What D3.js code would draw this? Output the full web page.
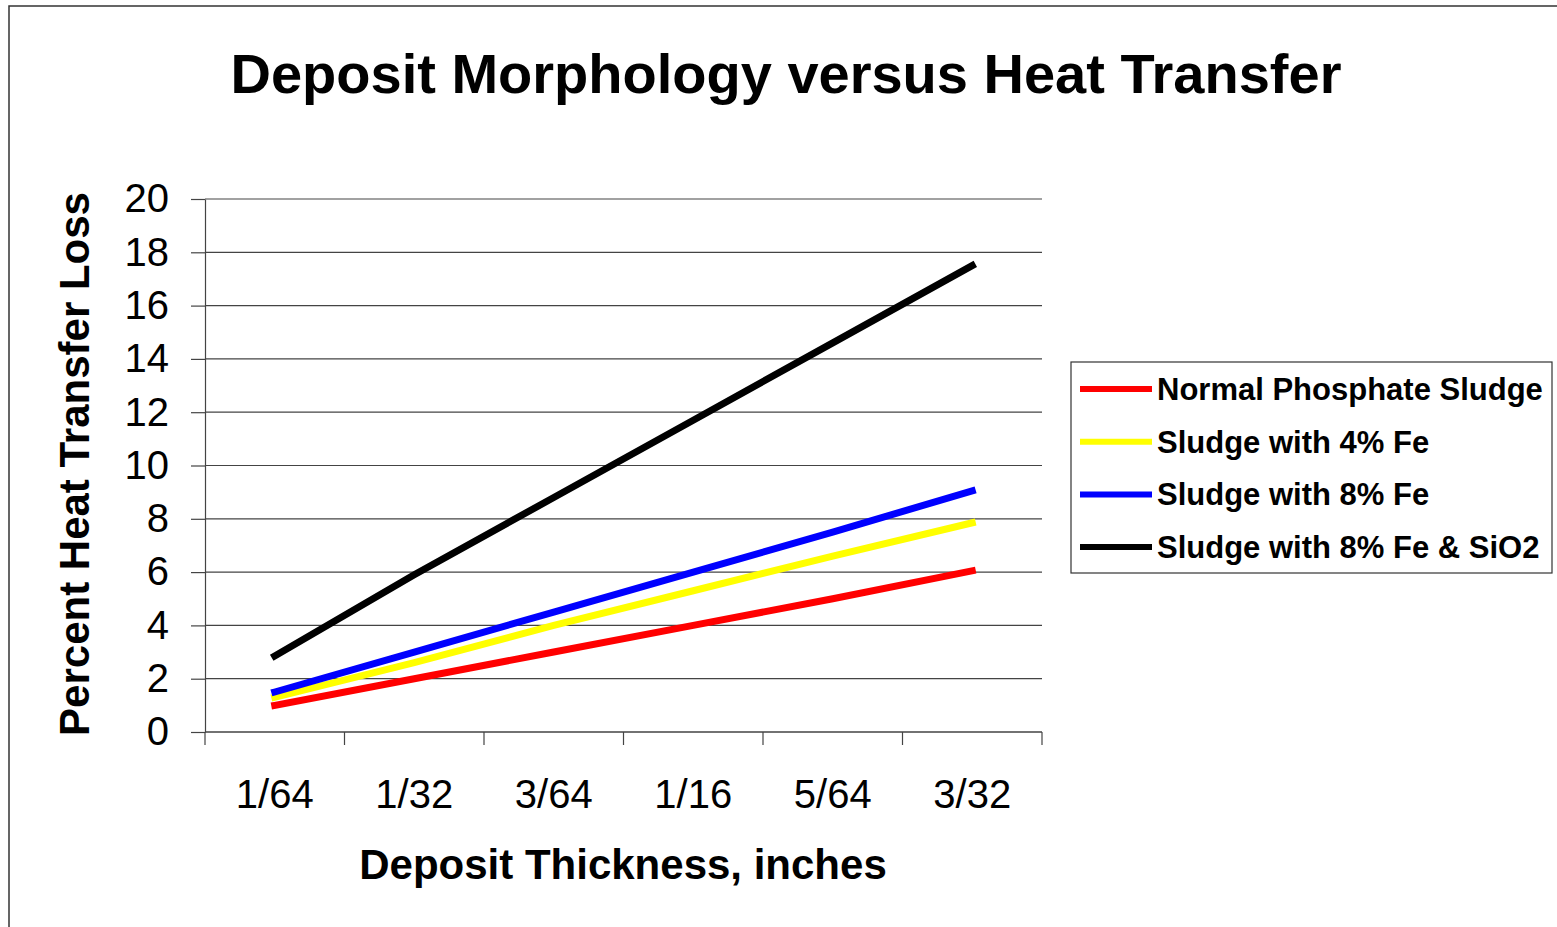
<!DOCTYPE html>
<html>
<head>
<meta charset="utf-8">
<script src="https://cdn.jsdelivr.net/npm/d3@7"></script>
<style>
  body { margin: 0; background: #fff; }
  svg { display: block; font-family: "Liberation Sans", Arial, sans-serif; }
</style>
</head>
<body>
<svg width="1557" height="927"></svg>
<script>
// values
const thickness = ["1/64", "1/32", "3/64", "1/16", "5/64", "3/32"];
const normalSludge = [1.0, 2.0, 3.0, 4.0, 5.0, 6.05];
const sludgeFe4 = [1.3, 2.6, 4.0, 5.3, 6.6, 7.85];
const sludgeFe8 = [1.5, 3.0, 4.5, 6.0, 7.5, 9.05];
const sludgeFe8SiO2 = [2.85, 5.9, 8.8, 11.7, 14.6, 17.5];
const yTicks = [0, 2, 4, 6, 8, 10, 12, 14, 16, 18, 20];

const series = [
  { name: "Normal Phosphate Sludge", color: "#ff0000", values: normalSludge },
  { name: "Sludge with 4% Fe", color: "#ffff00", values: sludgeFe4 },
  { name: "Sludge with 8% Fe", color: "#0000ff", values: sludgeFe8 },
  { name: "Sludge with 8% Fe & SiO2", color: "#000000", values: sludgeFe8SiO2 }
];

const svg = d3.select("svg");
const width = +svg.attr("width");
const height = +svg.attr("height");

const plotL = 205, plotR = 1042, plotT = 199, plotB = 732;

// outer frame
svg.append("rect")
  .attr("x", 9).attr("y", 6)
  .attr("width", width + 20).attr("height", height + 20)
  .attr("fill", "none").attr("stroke", "#333").attr("stroke-width", 1.5);

svg.append("text")
  .attr("x", 786).attr("y", 93)
  .attr("text-anchor", "middle")
  .attr("font-size", 56).attr("font-weight", "bold")
  .text("Deposit Morphology versus Heat Transfer");

const x = d3.scaleBand().domain(thickness).range([plotL, plotR]).padding(0);
const y = d3.scaleLinear().domain([0, 20]).range([plotB, plotT]);

// gridlines
svg.append("g")
  .selectAll("line")
  .data(yTicks)
  .enter()
  .append("line")
    .attr("x1", plotL).attr("x2", plotR)
    .attr("y1", d => y(d)).attr("y2", d => y(d))
    .attr("stroke", "#444").attr("stroke-width", 1.2);

// y axis
const yAxis = svg.append("g")
  .attr("transform", `translate(${plotL},0)`)
  .call(d3.axisLeft(y).tickValues(yTicks).tickSize(14).tickPadding(22).tickSizeOuter(0));
yAxis.select(".domain").attr("stroke", "#444").attr("stroke-width", 1.2);
yAxis.selectAll(".tick line").attr("stroke", "#444").attr("stroke-width", 1.2);
yAxis.selectAll(".tick text")
  .attr("font-size", 40).attr("fill", "#000")
  .attr("font-family", "Liberation Sans, Arial, sans-serif");

// x axis: ticks on band edges, labels at band centres
const xg = svg.append("g");
xg.append("line")
  .attr("x1", plotL).attr("x2", plotR)
  .attr("y1", plotB).attr("y2", plotB)
  .attr("stroke", "#444").attr("stroke-width", 1.2);
xg.selectAll("line.tk")
  .data(thickness.map(d => x(d)).concat([plotR]))
  .enter()
  .append("line")
    .attr("class", "tk")
    .attr("x1", d => d).attr("x2", d => d)
    .attr("y1", plotB).attr("y2", plotB + 13)
    .attr("stroke", "#444").attr("stroke-width", 1.2);
xg.selectAll("text")
  .data(thickness)
  .enter()
  .append("text")
    .attr("x", d => x(d) + x.bandwidth() / 2)
    .attr("y", 808)
    .attr("text-anchor", "middle")
    .attr("font-size", 40)
    .text(d => d);

// axis titles
svg.append("text")
  .attr("x", 623).attr("y", 879)
  .attr("text-anchor", "middle")
  .attr("font-size", 42).attr("font-weight", "bold")
  .text("Deposit Thickness, inches");

svg.append("text")
  .attr("transform", `translate(89,${(plotT + 745) / 2 - 8}) rotate(-90)`)
  .attr("text-anchor", "middle")
  .attr("font-size", 42).attr("font-weight", "bold")
  .text("Percent Heat Transfer Loss");

// series lines
const line = d3.line()
  .x((d, i) => x(thickness[i]) + x.bandwidth() / 2)
  .y(d => y(d));

svg.append("g")
  .selectAll("path")
  .data(series)
  .enter()
  .append("path")
    .attr("fill", "none")
    .attr("stroke", d => d.color)
    .attr("stroke-width", 7)
    .attr("stroke-linecap", "square")
    .attr("d", d => line(d.values));

// legend
const legend = svg.append("g").attr("transform", "translate(1071,362)");
legend.append("rect")
  .attr("width", 481).attr("height", 211)
  .attr("fill", "#fff").attr("stroke", "#333").attr("stroke-width", 1.2);

const item = legend.selectAll("g.item")
  .data(series)
  .enter()
  .append("g")
    .attr("class", "item")
    .attr("transform", (d, i) => `translate(0,${27 + i * 52.7})`);
item.append("line")
  .attr("x1", 9).attr("x2", 81)
  .attr("stroke", d => d.color).attr("stroke-width", 6);
item.append("text")
  .attr("x", 86).attr("y", 11)
  .attr("font-size", 31).attr("font-weight", "bold")
  .text(d => d.name);
</script>
</body>
</html>
